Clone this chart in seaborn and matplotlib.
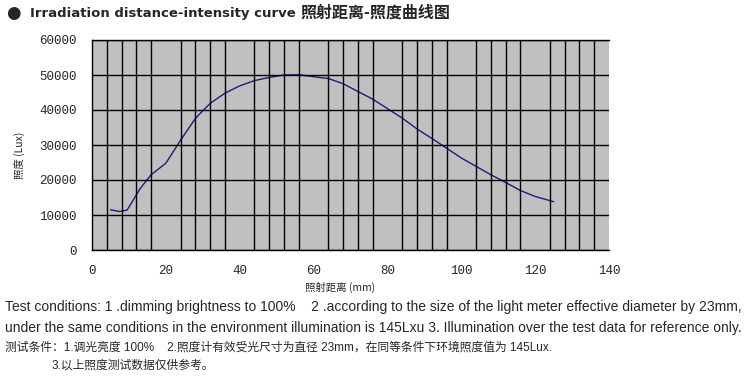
import matplotlib
matplotlib.use("Agg")
import matplotlib.pyplot as plt
import numpy as np
import pandas as pd
import seaborn as sns

# distance (mm) vs illuminance (Lux)
distance = [5, 7.5, 9.5, 11, 13, 16, 20, 24, 28, 32, 36, 40, 44, 48, 52, 56, 60,
            64, 68, 72, 76, 80, 84, 88, 92, 96, 100, 104, 108, 112, 116, 120, 125]
lux = [11500, 11000, 11400, 14000, 17500, 21500, 24800, 31400, 37600, 41900, 44800,
       46900, 48400, 49300, 50000, 50100, 49500, 49000, 47500, 45300, 43100, 40400,
       37700, 34600, 31900, 29100, 26300, 23900, 21500, 19300, 17000, 15300, 13800]
xticks = [0, 20, 40, 60, 80, 100, 120, 140]
yticks = [0, 10000, 20000, 30000, 40000, 50000, 60000]

df = pd.DataFrame({"distance": distance, "lux": lux})

sns.set_style("white")
plt.rcParams['font.family'] = ['DejaVu Sans', 'Noto Sans CJK SC']

fig = plt.figure(figsize=(7.5, 3.8), dpi=100)
ax = fig.add_axes([92/750, 1-250/380, (609-92)/750, 210/380])
ax.set_facecolor("#c0c0c0")

sns.lineplot(data=df, x="distance", y="lux", ax=ax, color="#1c1c78", linewidth=1)

ax.set_xlim(0, 140)
ax.set_ylim(0, 60000)
ax.set_xticks(xticks)
ax.set_yticks(yticks)
ax.set_xticks(np.arange(0, 141, 4), minor=True)
ax.grid(which="minor", axis="x", color="black", linewidth=1)
ax.grid(which="major", axis="y", color="black", linewidth=1)
ax.set_axisbelow(False)
ax.tick_params(which="both", length=0)
ax.tick_params(axis="x", which="major", length=3, pad=8)
ax.tick_params(axis="y", which="major", pad=11)
for s in ["left", "bottom", "top"]:
    ax.spines[s].set_color("black")
    ax.spines[s].set_linewidth(1)
ax.spines["right"].set_visible(False)

mono = ['Liberation Mono', 'DejaVu Sans Mono']
ax.set_xticklabels([str(t) for t in xticks], family=mono, fontsize=9)
ax.set_yticklabels([str(t) for t in yticks], family=mono, fontsize=9)
ax.set_xlabel("")
ax.set_ylabel("")
fig.text(340/750, 1-287/380, "照射距离 (mm)", family=['Noto Sans CJK SC', 'DejaVu Sans'],
         fontsize=7.5, ha="center", va="center")
fig.text(20/750, 1-155/380, "照度 (Lux)", family=['Noto Sans CJK SC', 'DejaVu Sans'],
         fontsize=7.5, ha="center", va="center", rotation=90)

fig.text(6/750, 1-13/380, "●", fontsize=12, va="center", ha="left", family=['DejaVu Sans'])
fig.text(30/750, 1-13/380, "Irradiation distance-intensity curve",
         fontsize=9.5, fontweight="bold", va="center", ha="left", family=['DejaVu Sans'])
fig.text(300/750, 1-13/380, "照射距离-照度曲线图",
         fontsize=11.5, fontweight="bold", va="center", ha="left",
         family=['Noto Sans CJK SC', 'DejaVu Sans'])

narrow = ['Liberation Sans Narrow', 'Liberation Sans', 'Noto Sans CJK SC']
lines = [
    (5, 307, 10, "Test conditions: 1 .dimming brightness to 100%    2 .according to the size of the light meter effective diameter by 23mm,"),
    (5, 328, 10, "under the same conditions in the environment illumination is 145Lxu 3. Illumination over the test data for reference only."),
    (5, 348, 8.5, "测试条件：1.调光亮度 100%    2.照度计有效受光尺寸为直径 23mm，在同等条件下环境照度值为 145Lux."),
    (52, 366, 8.5, "3.以上照度测试数据仅供参考。"),
]
for x, y, fs, t in lines:
    fig.text(x/750, 1-y/380, t, fontsize=fs, va="center", ha="left", family=narrow)

fig.savefig("out.png", dpi=100, facecolor="white")
